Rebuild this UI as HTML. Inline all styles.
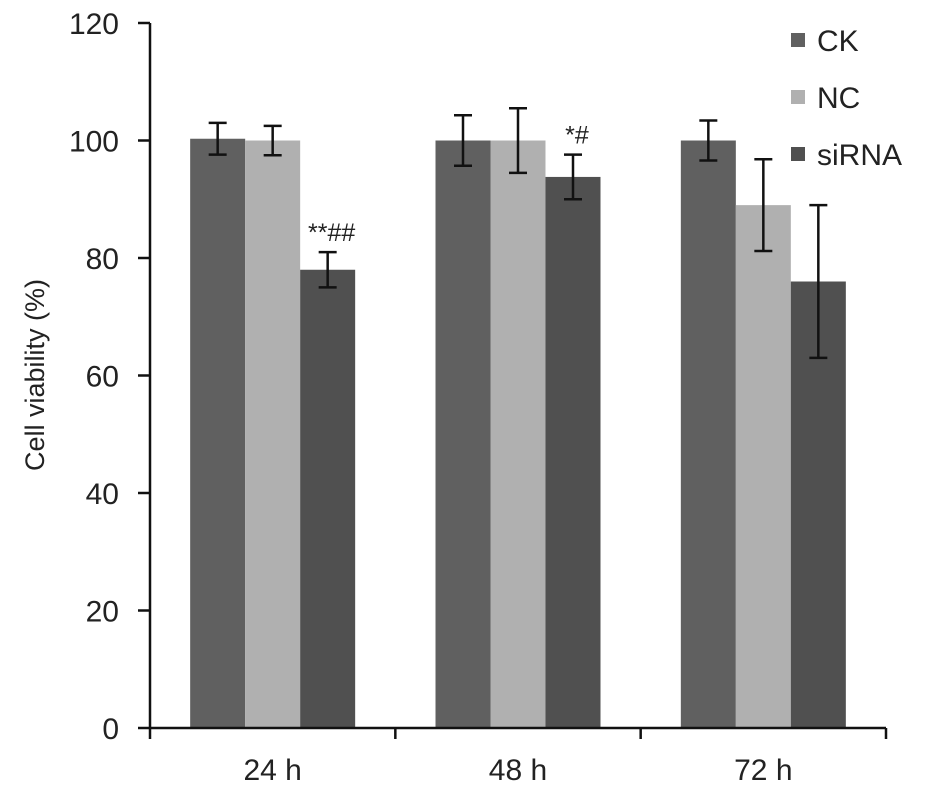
<!DOCTYPE html>
<html><head><meta charset="utf-8"><style>
body{margin:0;background:#fff;}
svg text{font-family:"Liberation Sans",Arial,sans-serif;fill:#222;}
</style></head><body>
<svg id="chart" width="925" height="791" viewBox="0 0 925 791" xmlns="http://www.w3.org/2000/svg"></svg>
<script>
const categories = ["24 h","48 h","72 h"];
const seriesNames = ["CK","NC","siRNA"];
const ckValues = [100.3, 100, 100];
const ncValues = [100, 100, 89];
const sirnaValues = [78, 93.8, 76];
const ckErrors = [2.7, 4.3, 3.4];
const ncErrors = [2.5, 5.5, 7.8];
const sirnaErrors = [3, 3.8, 13];
const annotations = ["**##","*#",""];
const yTicks = [0,20,40,60,80,100,120];

const NS="http://www.w3.org/2000/svg";
const svg=document.getElementById('chart');
const colors=["#606060","#b0b0b0","#505050"];
const x0=150,x1=886,yBase=728,yTop=23,yMax=120;
const y=v=>yBase-(v/yMax)*(yBase-yTop);
const catW=(x1-x0)/categories.length;
const barW=55;
function mk(tag,attrs,text){const e=document.createElementNS(NS,tag);for(const k in attrs)e.setAttribute(k,attrs[k]);if(text!==undefined)e.textContent=text;svg.appendChild(e);return e;}

const series=[ckValues,ncValues,sirnaValues];
const errs=[ckErrors,ncErrors,sirnaErrors];
categories.forEach((c,i)=>{
  const cx=x0+catW*(i+0.5);
  series.forEach((vals,s)=>{
    const bx=cx-1.5*barW+s*barW;
    const r=mk('rect',{x:bx,y:y(vals[i]),width:barW,height:yBase-y(vals[i]),fill:colors[s]});
    
    
    const mx=bx+barW/2,hi=y(vals[i]+errs[s][i]),lo=y(vals[i]-errs[s][i]);
    const g=document.createElementNS(NS,'g');
    
    
    g.setAttribute('stroke','#111');g.setAttribute('stroke-width','2.5');
    [[mx,hi,mx,lo],[mx-9,hi,mx+9,hi],[mx-9,lo,mx+9,lo]].forEach(l=>{const e=document.createElementNS(NS,'line');e.setAttribute('x1',l[0]);e.setAttribute('y1',l[1]);e.setAttribute('x2',l[2]);e.setAttribute('y2',l[3]);g.appendChild(e);});
    svg.appendChild(g);
  });
  if(annotations[i]){
    const t=mk('text',{x:cx+barW+4,y:y(sirnaValues[i]+sirnaErrors[i])-11,'font-size':25,'text-anchor':'middle'},annotations[i]);
    
    
  }
  const lt=mk('text',{x:cx,y:780,'font-size':30,'text-anchor':'middle'},c);
  
  
});
const ya=mk('line',{x1:x0,y1:yTop,x2:x0,y2:yBase,stroke:'#111','stroke-width':2.5});


const xa=mk('line',{x1:x0,y1:yBase,x2:x1,y2:yBase,stroke:'#111','stroke-width':2.5});


yTicks.forEach(v=>{
  mk('line',{x1:x0-12,y1:y(v),x2:x0,y2:y(v),stroke:'#111','stroke-width':2.5});
  const t=mk('text',{x:x0-31,y:y(v)+11,'font-size':30,'text-anchor':'end'},v);
  
  
});
for(let i=0;i<=categories.length;i++){const xx=x0+catW*i;mk('line',{x1:xx,y1:yBase,x2:xx,y2:yBase+11,stroke:'#111','stroke-width':2.5});}
const yl=mk('text',{x:0,y:0,'font-size':27,'text-anchor':'middle',transform:'translate(44,375) rotate(-90)'},'Cell viability (%)');


seriesNames.forEach((n,s)=>{
  const yy=40+s*57;
  const r=mk('rect',{x:791,y:yy-7,width:14,height:14,fill:colors[s]});
  
  
  const t=mk('text',{x:817,y:yy+11,'font-size':30},n);
  
  
});
</script>
</body></html>
